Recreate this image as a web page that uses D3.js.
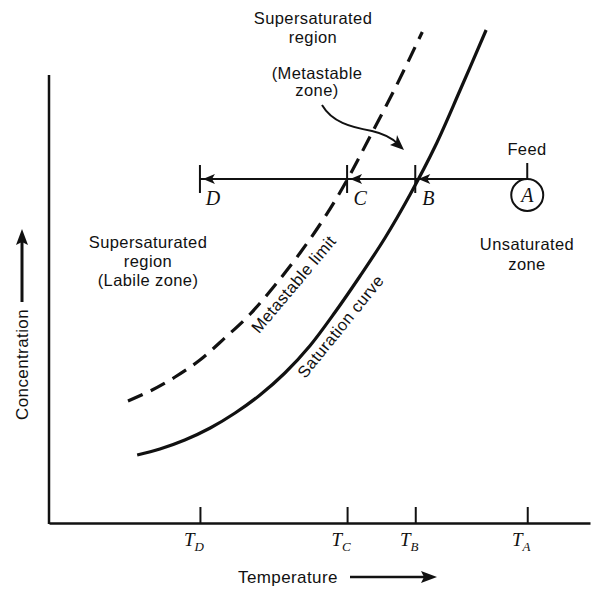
<!DOCTYPE html>
<html>
<head>
<meta charset="utf-8">
<script src="https://cdn.jsdelivr.net/npm/d3@7"></script>
<style>
  body { margin: 0; background: #fff; }
  svg { display: block; }
  .lbl { font-family: "Liberation Sans", Arial, sans-serif; font-size: 16.5px; fill: #111; letter-spacing: 0.4px; }
  .pt { font-family: "Liberation Serif", "Times New Roman", serif; font-style: italic; font-size: 20px; fill: #111; }
</style>
</head>
<body>
<div id="chart"></div>
<script>
// temperature / concentration in arbitrary units (0-100)
var saturationT = [16.3, 20.5, 25.1, 29.8, 34.4, 39.0, 43.6, 48.2, 52.9, 57.5, 62.1, 66.7, 71.4, 76.0, 80.8];
var saturationC = [13.6, 14.8, 16.6, 19.0, 22.0, 25.6, 30.0, 35.4, 42.2, 49.4, 57.0, 65.6, 75.4, 86.6, 98.6];

var metastableT = [14.6, 18.7, 23.3, 27.9, 32.5, 37.2, 41.8, 46.4, 51.0, 55.1, 59.3, 64.0, 69.0];
var metastableC = [24.4, 26.4, 29.2, 32.6, 37.0, 41.8, 47.6, 54.0, 61.2, 68.6, 77.2, 87.0, 98.2];

var pointNames = ["D", "C", "B", "A"];
var pointT = [27.9, 55.1, 67.7, 88.4];
var tickSubs = ["D", "C", "B", "A"];
var feedC = 68.8;

var width = 592, height = 589;

var svg = d3.select("#chart").append("svg")
    .attr("width", width)
    .attr("height", height);

var x = d3.scaleLinear().domain([0, 100]).range([49, 590]);
var y = d3.scaleLinear().domain([0, 100]).range([523, 23]);

var ink = "#111";

// axes
var xAxis = d3.axisBottom(x)
    .tickValues(pointT)
    .tickSizeInner(-16)
    .tickSizeOuter(0)
    .tickFormat("");

var gx = svg.append("g")
    .attr("transform", "translate(0," + y(0) + ")")
    .call(xAxis);
gx.select(".domain").attr("stroke", ink).attr("stroke-width", 2.5);
gx.selectAll(".tick line").attr("stroke", ink).attr("stroke-width", 2);

svg.append("line")
    .attr("x1", x(0)).attr("x2", x(0))
    .attr("y1", y(0) + 1).attr("y2", y(89.6))
    .attr("stroke", ink).attr("stroke-width", 2.5);

// tick labels T with subscripts
var tl = svg.selectAll(".tlab")
    .data(pointT)
    .enter().append("text")
    .attr("class", "pt")
    .style("font-size", "19px")
    .attr("x", function(d) { return x(d) - 6; })
    .attr("y", y(0) + 23)
    .attr("text-anchor", "middle");
tl.append("tspan").text("T");
tl.append("tspan")
    .attr("dy", 5)
    .attr("font-size", 13)
    .text(function(d, i) { return tickSubs[i]; });

// curves
var line = d3.line()
    .x(function(d) { return x(d[0]); })
    .y(function(d) { return y(d[1]); })
    .curve(d3.curveCatmullRom);

svg.append("path")
    .datum(d3.zip(saturationT, saturationC))
    .attr("d", line)
    .attr("fill", "none")
    .attr("stroke", ink)
    .attr("stroke-width", 3.2);

svg.append("path")
    .datum(d3.zip(metastableT, metastableC))
    .attr("d", line)
    .attr("fill", "none")
    .attr("stroke", ink)
    .attr("stroke-width", 3.2)
    .attr("stroke-dasharray", "16,9");

// cooling path D <- A
var yl = y(feedC);
svg.append("line")
    .attr("x1", x(pointT[0])).attr("x2", x(pointT[3]))
    .attr("y1", yl).attr("y2", yl)
    .attr("stroke", ink).attr("stroke-width", 2);

// end ticks with small arrowheads at D, C, B
[0, 1, 2].forEach(function(i) {
    var px = x(pointT[i]);
    svg.append("line")
        .attr("x1", px).attr("x2", px)
        .attr("y1", yl - 14).attr("y2", yl + 14)
        .attr("stroke", ink).attr("stroke-width", 2);
    svg.append("path")
        .attr("d", "M" + (px + 3) + "," + yl + "l12,-5l-3,5l3,5z")
        .attr("fill", ink);
});

// feed point A
var xa = x(pointT[3]);
svg.append("line")
    .attr("x1", xa).attr("x2", xa)
    .attr("y1", yl - 16).attr("y2", yl)
    .attr("stroke", ink).attr("stroke-width", 2);
svg.append("circle")
    .attr("cx", xa).attr("cy", yl + 16).attr("r", 16)
    .attr("fill", "none").attr("stroke", ink).attr("stroke-width", 2);

svg.selectAll(".plab")
    .data(pointNames)
    .enter().append("text")
    .attr("class", "pt")
    .attr("x", function(d, i) { return i < 3 ? x(pointT[i]) + 13 : xa; })
    .attr("y", function(d, i) { return i < 3 ? yl + 26 : yl + 23; })
    .attr("text-anchor", "middle")
    .text(function(d) { return d; });

// annotation text
function block(lines, cx, y0, dy) {
    var t = svg.append("text").attr("class", "lbl").attr("text-anchor", "middle");
    lines.forEach(function(s, i) {
        t.append("tspan").attr("x", cx).attr("y", y0 + i * dy).text(s);
    });
}
block(["Supersaturated", "region"], 313, 24, 19);
block(["(Metastable", "zone)"], 317, 79, 17);
block(["Supersaturated", "region", "(Labile zone)"], 148, 248, 19);
block(["Unsaturated", "zone"], 527, 250, 20);
block(["Feed"], 527, 155, 0);

svg.append("text").attr("class", "lbl")
    .attr("transform", "translate(298,288) rotate(-50)")
    .attr("text-anchor", "middle")
    .text("Metastable limit");
svg.append("text").attr("class", "lbl")
    .attr("transform", "translate(345,330) rotate(-51)")
    .attr("text-anchor", "middle")
    .text("Saturation curve");

// metastable zone pointer
svg.append("path")
    .attr("d", "M322,105 C332,122 350,127 372,131 C385,134 393,139 398,144")
    .attr("fill", "none").attr("stroke", ink).attr("stroke-width", 2);
svg.append("path")
    .attr("d", "M404,150 L390,145 L396,142 L397,135 Z")
    .attr("fill", ink);

// axis titles with arrows
svg.append("text").attr("class", "lbl")
    .attr("x", 238).attr("y", 583)
    .style("font-size", "17px")
    .text("Temperature");
svg.append("line")
    .attr("x1", 350).attr("x2", 425).attr("y1", 577).attr("y2", 577)
    .attr("stroke", ink).attr("stroke-width", 2.5);
svg.append("path").attr("d", "M437,577 L421,571 L424,577 L421,583 Z").attr("fill", ink);

svg.append("text").attr("class", "lbl")
    .attr("transform", "translate(28,420) rotate(-90)")
    .style("font-size", "17px")
    .text("Concentration");
svg.append("line")
    .attr("x1", 22).attr("x2", 22).attr("y1", 302).attr("y2", 242)
    .attr("stroke", ink).attr("stroke-width", 3);
svg.append("path").attr("d", "M22,229 L16,245 L22,242 L28,245 Z").attr("fill", ink);
</script>
</body>
</html>
